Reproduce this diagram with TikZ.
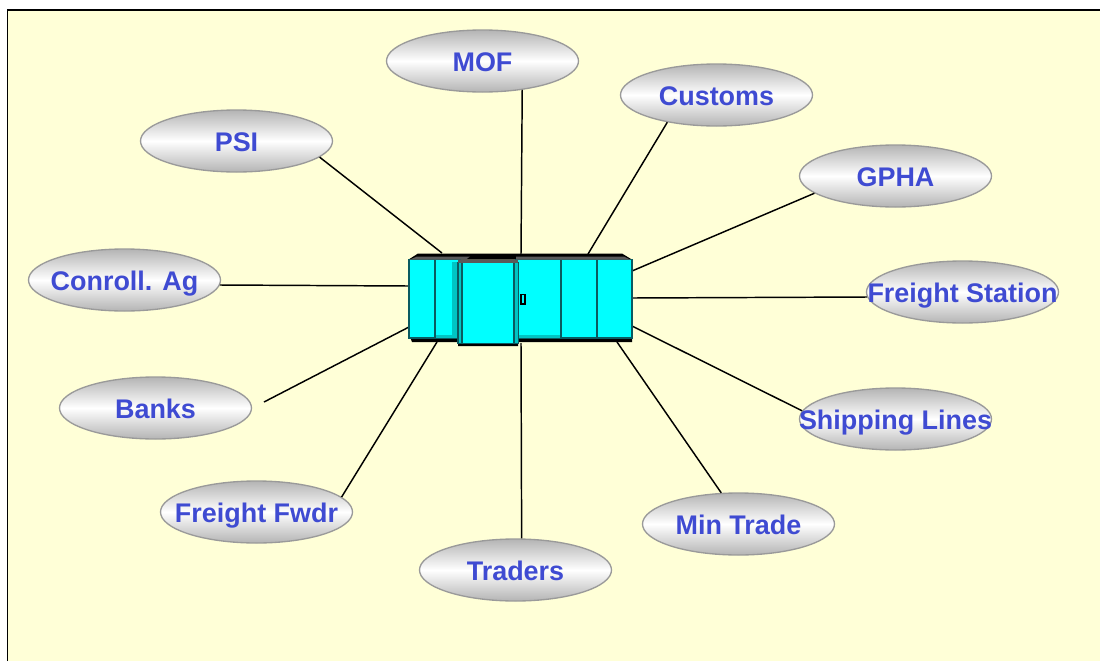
\documentclass[tikz,border=0pt]{standalone}
\usepackage{fontspec}
\setmainfont{Liberation Sans}
\usetikzlibrary{shapes.geometric}
\definecolor{paper}{HTML}{FFFFD7}
\definecolor{labelblue}{HTML}{3F4BD2}
\definecolor{ovalgray}{HTML}{B4B4B4}
\definecolor{ovalline}{HTML}{9A9A9A}
\definecolor{hubcyan}{HTML}{00FFFF}
\definecolor{hubmid}{HTML}{00C4C4}
\definecolor{hubedge}{HTML}{0A5A60}
\definecolor{hubgray}{HTML}{5A5A5A}
\newcommand{\ovaltext}[1]{\raisebox{-7.5pt}[0pt][0pt]{\makebox[0pt][c]{#1}}}
\tikzset{
  oval/.style={ellipse, draw=ovalline, line width=1pt, minimum width=144pt, minimum height=46.5pt, inner sep=0pt,
    top color=ovalgray, bottom color=ovalgray, middle color=white,
    text=labelblue, font=\bfseries\fontsize{20.2}{20.2}\selectfont},
  link/.style={draw=black, line width=1.1pt},
  panel/.style={fill=hubcyan, draw=hubedge, line width=0.8pt}
}
\begin{document}
\begin{tikzpicture}[x=0.75pt,y=-0.75pt]
\useasboundingbox (0,0) rectangle (1100,661);
\fill[white] (0,0) rectangle (1100,661);
\path[fill=paper] (7.5,10) rectangle (1100,661);
\draw[black,line width=0.8pt] (7.5,661) -- (7.5,10) -- (1100,10);
% hub ports
\coordinate (pPsi) at (442,253);
\coordinate (pMof) at (521,254);
\coordinate (pCus) at (588,254);
\coordinate (pGph) at (632,271);
\coordinate (pFst) at (632,298);
\coordinate (pShp) at (632,326);
\coordinate (pMin) at (617,342);
\coordinate (pTrd) at (521,343);
\coordinate (pFwd) at (437,342);
\coordinate (pBnk) at (409,327);
\coordinate (pCon) at (409,286);
\coordinate (bankEnd) at (264,402);
% ovals
\node[oval] (mof) at (482.5,61) {\ovaltext{MOF}};
\node[oval] (customs) at (716.5,95) {\ovaltext{Customs}};
\node[oval] (gpha) at (895.5,176) {\ovaltext{GPHA}};
\node[oval] (fstation) at (962.5,292) {\ovaltext{Freight Station}};
\node[oval] (shipping) at (895.5,419) {\ovaltext{Shipping Lines}};
\node[oval] (mintrade) at (738.5,524) {\ovaltext{Min Trade}};
\node[oval] (traders) at (515.5,570) {\ovaltext{Traders}};
\node[oval] (ffwdr) at (256.5,512) {\ovaltext{Freight Fwdr}};
\node[oval] (banks) at (155.5,408) {\ovaltext{Banks}};
\node[oval] (conroll) at (124.5,280) {\ovaltext{Conroll. Ag}};
\node[oval] (psi) at (236.5,141) {\ovaltext{PSI}};
% connectors
\draw[link] (psi.-11.4) -- (pPsi);
\draw[link] (mof.-36.4) -- (pMof);
\draw[link] (customs.-151.6) -- (pCus);
\draw[link] (gpha.-168.4) -- (pGph);
\draw[link] (fstation.183.65) -- (pFst);
\draw[link] (shipping.175) -- (pShp);
\draw[link] (mintrade.119) -- (pMin);
\draw[link] (traders.79.8) -- (pTrd);
\draw[link] (ffwdr.10.1) -- (pFwd);
\draw[link] (bankEnd) -- (pBnk);
\draw[link] (conroll.-3.6) -- (pCon);
% hub
\fill[black] (408.5,259.6) -- (418,253.5) -- (622,253.5) -- (632,259.6) -- cycle;
\fill[black] (410,337) -- (632,337) -- (632,342) -- (518,342) -- (518,346) -- (458,346) -- (458,342) -- (412,342) -- cycle;
\draw[panel] (409,259.5) rectangle (435,338);
\draw[panel] (435,259.5) rectangle (460,338);
\fill[hubmid] (452,262) rectangle (458,338);
\fill[hubmid] (435.5,335) rectangle (458,338);
\draw[panel] (516,259.5) rectangle (561,338);
\fill[hubmid] (517,335) rectangle (561,338);
\draw[panel] (561,259.5) rectangle (597,338);
\draw[panel] (597,259.5) rectangle (632,338);
\draw[panel] (458,262.5) rectangle (518,343.5);
\fill[hubmid] (459,263) rectangle (462,343);
\fill[hubmid] (514,263) rectangle (517.5,343);
\draw[hubedge,line width=0.8pt] (462,263) -- (462,343) (514,263) -- (514,343);
\fill[hubgray] (417,256.5) -- (470,256.5) -- (466,259.5) -- (410,259.5) -- cycle;
\fill[hubgray] (516,256.5) -- (624,256.5) -- (630,259.5) -- (516,259.5) -- cycle;
\fill[hubgray] (458,259.5) -- (518,259.5) -- (518,262.7) -- (458,262.7) -- cycle;
\draw[fill=hubcyan,draw=black,line width=1pt] (520.5,294.5) rectangle (525,304);
\fill[black] (520.5,294.5) rectangle (522,304);
\end{tikzpicture}
\end{document}
